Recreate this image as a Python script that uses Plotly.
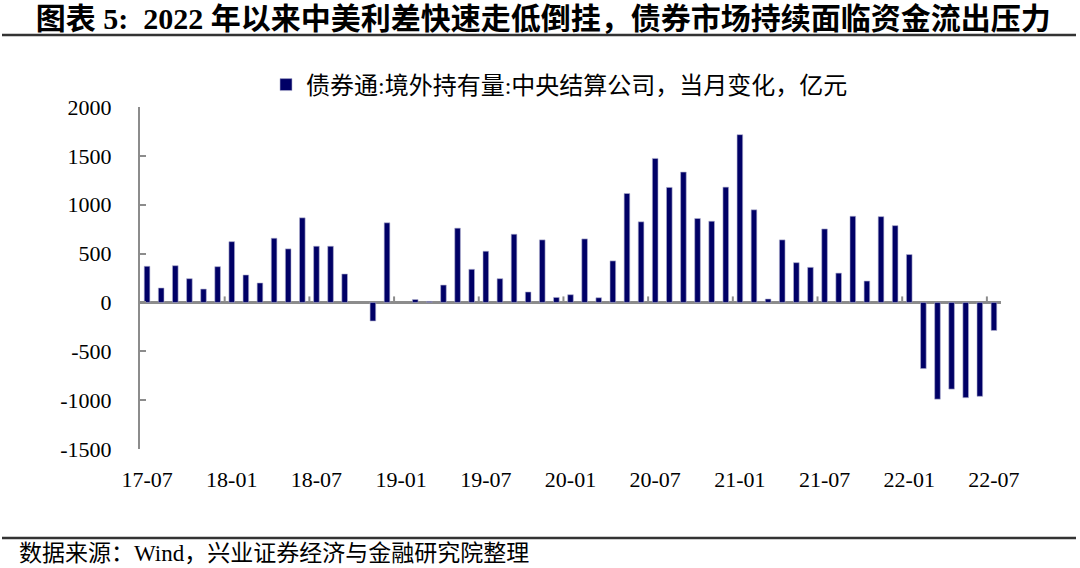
import plotly.graph_objects as go
import pandas as pd

# ---- data ----
months = [p.strftime("%y-%m") for p in pd.period_range("2017-07", "2022-07", freq="M")]
values = [
    370, 148, 376, 243, 137, 366,          # 17-07 .. 17-12
    622, 281, 199, 657, 548, 866,          # 18-01 .. 18-06
    575, 575, 291, None, -190, 815,        # 18-07 .. 18-12
    None, 30, 10, 178, 760, 339,           # 19-01 .. 19-06
    524, 243, 698, 107, 640, 51,           # 19-07 .. 19-12
    79, 650, 48, 425, 1115, 825,           # 20-01 .. 20-06
    1474, 1177, 1334, 859, 831, 1180,      # 20-07 .. 20-12
    1717, 948, 35, 640, 407, 359,          # 21-01 .. 21-06
    752, 300, 882, 219, 878, 786,          # 21-07 .. 21-12
    490, -677, -990, -887, -975, -961,     # 22-01 .. 22-06
    -287,                                  # 22-07
]
tick_labels = ["17-07", "18-01", "18-07", "19-01", "19-07", "20-01",
               "20-07", "21-01", "21-07", "22-01", "22-07"]
y_ticks = [-1500, -1000, -500, 0, 500, 1000, 1500, 2000]
y_tick_text = ["-1500", "-1000", "-500", "0", "500", "1000", "1500", "2000"]
series_name = "债券通:境外持有量:中央结算公司，当月变化，亿元"
title_text = "图表 5:  2022 年以来中美利差快速走低倒挂，债券市场持续面临资金流出压力"
source_text = "数据来源：Wind，兴业证券经济与金融研究院整理"

# ---- layout constants ----
W, H = 1080, 568
ML, MR, MT, MB = 140, 79, 107, 119
PW, PH = W - ML - MR, H - MT - MB
SERIF = "Liberation Serif, Noto Sans CJK SC, serif"
GREY = "#8c8c8c"

def px_to_paper_x(px):
    return (px - ML) / PW

def px_to_paper_y(py):
    return (H - MB - py) / PH

fig = go.Figure()
fig.add_trace(go.Bar(
    x=months, y=values, name=series_name, width=0.4,
    marker=dict(color="#000066", line=dict(color="#b4b4d2", width=0.6)),
    showlegend=True, hoverinfo="skip",
))

shapes = []
# boundary ticks on the zero line every 6 months
for lab in tick_labels[1:]:
    idx = months.index(lab)
    shapes.append(dict(type="line", xref="x", yref="y", ysizemode="pixel", yanchor=0,
                       x0=idx - 0.5, x1=idx - 0.5, y0=0, y1=6,
                       line=dict(color=GREY, width=2)))
# title underline and footer line
shapes.append(dict(type="line", xref="paper", yref="paper",
                   x0=px_to_paper_x(2), x1=px_to_paper_x(1076),
                   y0=px_to_paper_y(35), y1=px_to_paper_y(35),
                   line=dict(color="#333333", width=2.5)))
shapes.append(dict(type="line", xref="paper", yref="paper",
                   x0=px_to_paper_x(2), x1=px_to_paper_x(1076),
                   y0=px_to_paper_y(538), y1=px_to_paper_y(538),
                   line=dict(color="#333333", width=2.5)))

fig.update_layout(
    width=W, height=H,
    margin=dict(l=ML, r=MR, t=MT, b=MB, autoexpand=False),
    paper_bgcolor="white", plot_bgcolor="white",
    font=dict(family=SERIF, color="black", size=20),
    showlegend=True,
    legend=dict(xref="container", yref="container", x=266 / W, y=1 - 85 / H,
                xanchor="left", yanchor="middle", orientation="h",
                font=dict(size=24, family=SERIF), itemwidth=30,
                bgcolor="rgba(0,0,0,0)"),
    title=dict(text="<b>" + title_text + "</b>", xref="container", yref="container",
               x=0.503, y=1 - 18 / H, xanchor="center", yanchor="middle",
               font=dict(size=30, family=SERIF, color="black")),
    xaxis=dict(type="category", categoryorder="array", categoryarray=months,
               range=[-0.5, len(months) - 0.5],
               tickmode="array", tickvals=tick_labels, ticktext=tick_labels,
               showline=False, showgrid=False, zeroline=False, ticks="",
               tickangle=0, ticklabelstandoff=15,
               tickfont=dict(size=22, family=SERIF)),
    yaxis=dict(range=[-1500, 2000], tickmode="array", tickvals=y_ticks,
               ticktext=y_tick_text,
               showline=True, linecolor=GREY, linewidth=2,
               ticks="inside", ticklen=6, tickwidth=2, tickcolor=GREY,
               showgrid=False, zeroline=True, zerolinecolor=GREY, zerolinewidth=2.5,
               ticklabelstandoff=22, tickfont=dict(size=22, family=SERIF)),
    shapes=shapes,
    annotations=[dict(text=source_text, xref="paper", yref="paper",
                      x=px_to_paper_x(17), y=px_to_paper_y(553),
                      xanchor="left", yanchor="middle", showarrow=False,
                      font=dict(size=23, family=SERIF, color="black"))],
    bargap=0.6,
)

fig.write_html("out.html", config={"displayModeBar": False},
               post_script="document.body.style.margin='0px';")
